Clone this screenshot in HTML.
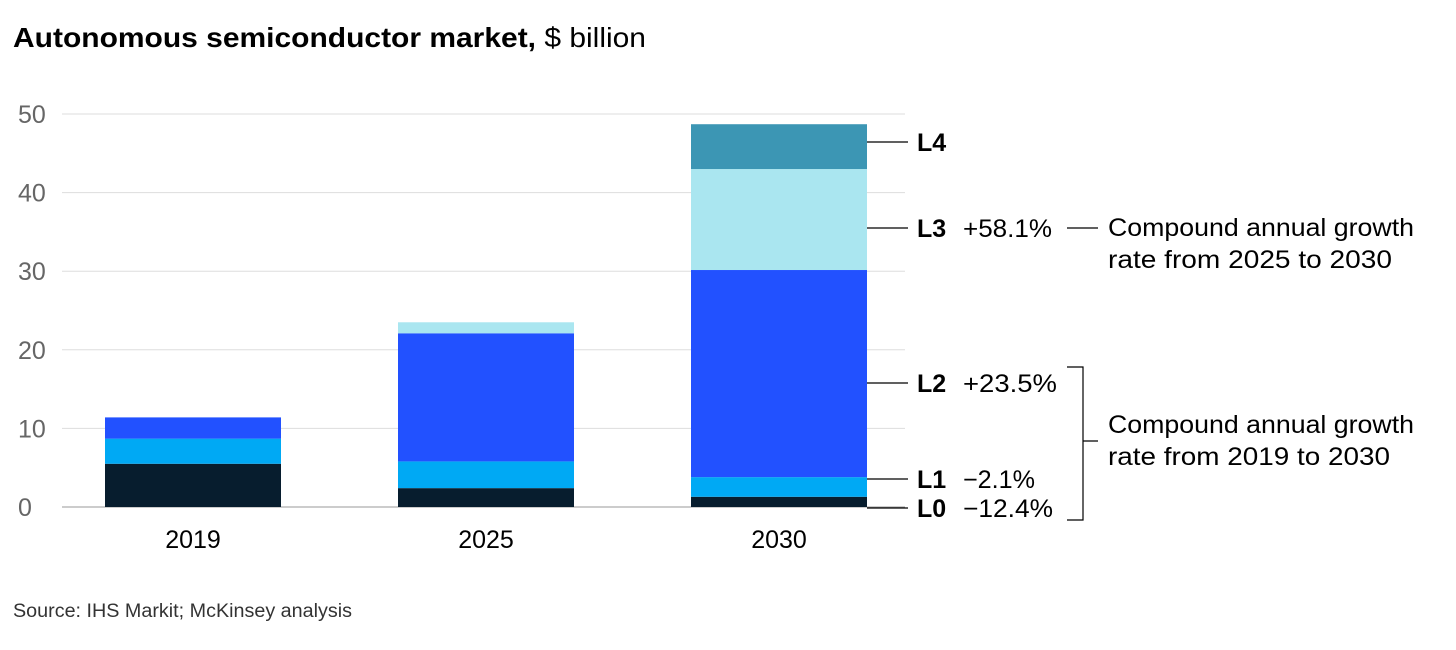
<!DOCTYPE html>
<html><head><meta charset="utf-8"><style>
body{margin:0;background:#fff;width:1456px;height:645px;overflow:hidden;font-family:"Liberation Sans",sans-serif}
</style></head><body>
<svg width="1456" height="645" font-family="Liberation Sans, sans-serif">
<text x="13" y="47" font-size="28" fill="#000" textLength="633" lengthAdjust="spacingAndGlyphs"><tspan font-weight="bold">Autonomous semiconductor market,</tspan> $ billion</text>
<g id="grid"></g><g id="bars"></g><g id="ann"></g>
<text x="13" y="617" font-size="19" fill="#333" textLength="339" lengthAdjust="spacingAndGlyphs">Source: IHS Markit; McKinsey analysis</text>
</svg>
<script>
const years=["2019","2025","2030"];
const L0=[5.5,2.4,1.3];
const L1=[3.2,3.4,2.5];
const L2=[2.7,16.3,26.35];
const L3=[0,1.4,12.85];
const L4=[0,0,5.7];
const ticks=[0,10,20,30,40,50];
const series=[L0,L1,L2,L3,L4];
const names=["L0","L1","L2","L3","L4"];
const colors=["#071d2e","#00a9f4","#2251ff","#aae6f0","#3c96b4"];
const ns="http://www.w3.org/2000/svg";
const y=v=>507-v*7.86;
const x=i=>105+i*293;
const bw=176;
function mk(t,a,p){const e=document.createElementNS(ns,t);for(const k in a)e.setAttribute(k,a[k]);p.appendChild(e);return e;}
const g=document.getElementById('grid');
ticks.forEach(t=>{
 const l=mk('line',{x1:62,x2:905,y1:y(t),y2:y(t),stroke:t==0?'#999':'#ddd','stroke-width':1},g);
 
 
 const tx=mk('text',{x:18,y:y(t)+9,'font-size':25,fill:'#666'},g);tx.textContent=t;
 
 
});
const b=document.getElementById('bars');
years.forEach((yr,i)=>{
 let acc=0;
 series.forEach((s,j)=>{
  const v=s[i]; if(v<=0){return;}
  const r=mk('rect',{x:x(i),y:y(acc+v),width:bw,height:y(acc)-y(acc+v),fill:colors[j]},b);
  
  
  acc+=v;
 });
 const t=mk('text',{x:x(i)+bw/2,y:548,'font-size':25,fill:'#000','text-anchor':'middle'},b);t.textContent=yr;
 
 
});
const a=document.getElementById('ann');
const cg=["−12.4%","−2.1%","+23.5%","+58.1%",""];
const cgw=[90,72,94,89,0];
const ly=[508,479,383,228,142];
ly.forEach((yy,j)=>{
 const l=mk('line',{x1:867,x2:908,y1:yy,y2:yy,stroke:'#000','stroke-width':1.2},a);
 
 
 const t=mk('text',{x:917,y:yy+9,'font-size':25,'font-weight':'bold',fill:'#000'},a);t.textContent=names[j];
 
 
 if(cg[j]){const c=mk('text',{x:963,y:yy+9,'font-size':25,fill:'#000',textLength:cgw[j],lengthAdjust:'spacingAndGlyphs'},a);c.textContent=cg[j];
 
 }
});
const l3=mk('line',{x1:1067,x2:1098,y1:228,y2:228,stroke:'#000','stroke-width':1.2},a);


const br=mk('path',{d:'M1067 367 H1083 V520 H1067 M1083 441 H1098',fill:'none',stroke:'#000','stroke-width':1.2},a);


[[236,"Compound annual growth",306],[268,"rate from 2025 to 2030",284],[433,"Compound annual growth",306],[465,"rate from 2019 to 2030",282]].forEach((d,k)=>{
 const t=mk('text',{x:1108,y:d[0],'font-size':25,fill:'#000',textLength:d[2],lengthAdjust:'spacingAndGlyphs'},a);t.textContent=d[1];
 
 
});
</script>
</body></html>
